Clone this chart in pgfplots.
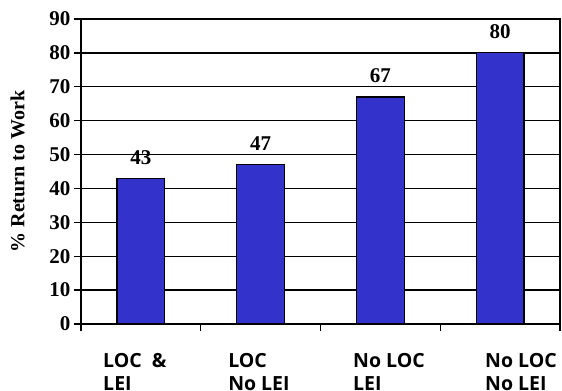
\documentclass[border=0pt]{standalone}
\usepackage{fontspec}
\setmainfont{Liberation Serif}
\newfontfamily\catfont{Open Sans}
\usepackage{pgfplots}
\pgfplotsset{compat=1.18}
\definecolor{barblue}{RGB}{51,51,204}
\begin{document}
\begin{tikzpicture}
\begin{axis}[
  name=main,
  scale only axis,
  width=479pt, height=305pt,
  xmin=0, xmax=4, ymin=0, ymax=90,
  axis line style={line width=1.6pt},
  ytick={0,10,...,90},
  xtick={0,1,2,3,4},
  xticklabels={},
  extra x ticks={0.184,1.228,2.271,3.374},
  extra x tick labels={{LOC \ \&\\LEI},{LOC\\No LEI},{No LOC\\LEI},{No LOC\\No LEI}},
  extra x tick style={major tick length=0pt, grid=none,
     xticklabel style={font=\catfont\bfseries\fontsize{19.5}{23}\selectfont, align=left, anchor=north west, inner sep=0pt, yshift=-29pt}},
  tick align=outside,
  major tick length=7pt,
  tick style={line width=1.3pt, black},
  xtick pos=bottom, ytick pos=left,
  ymajorgrids,
  grid style={line width=1.3pt, black},
  /pgf/number format/assume math mode=true,
  yticklabel style={font=\bfseries\fontsize{21}{24}\selectfont, xshift=0pt},
  ylabel={\% Return to Work},
  ylabel style={font=\bfseries\fontsize{20}{23}\selectfont, yshift=18pt},
  ybar, bar width=0.4,
  nodes near coords,
  every node near coord/.append style={font=\bfseries\fontsize{21}{24}\selectfont, yshift=10pt},
]
\addplot[fill=barblue, draw=black, line width=1.2pt] coordinates {(0.5,43) (1.5,47) (2.5,67) (3.5,80)};
\end{axis}
\pgfresetboundingbox
\path[use as bounding box] ([xshift=-81pt,yshift=-67pt]main.south west) rectangle ([xshift=2pt,yshift=19pt]main.north east);
\end{tikzpicture}
\end{document}
